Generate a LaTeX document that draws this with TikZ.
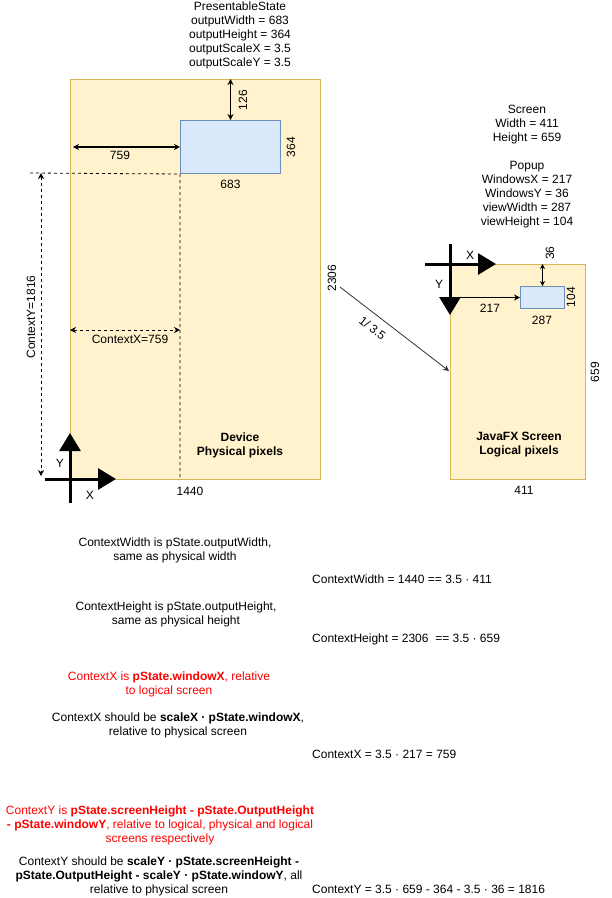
\documentclass[tikz,border=0pt]{standalone}
\usepackage{fontspec}
\setmainfont{Liberation Sans}
\usepackage{tikz}
\usetikzlibrary{arrows.meta,positioning,calc}
\definecolor{sand}{HTML}{FFF2CC}
\definecolor{ochre}{HTML}{D6B656}
\definecolor{pale}{HTML}{DAE8FC}
\definecolor{steel}{HTML}{6C8EBF}
\definecolor{alert}{HTML}{FF0000}
\definecolor{ink}{HTML}{333333}
\newcommand{\fs}{\fontsize{12}{14}\selectfont}
\tikzset{
  >={Stealth[length=6pt,width=6pt,inset=2pt]},
  screenbox/.style={draw=ochre,fill=sand,line width=1pt,inner sep=0pt,anchor=north west},
  viewbox/.style={draw=steel,fill=pale,line width=1pt,inner sep=0pt,anchor=north west},
  txt/.style={font=\fs,align=center,inner sep=0pt},
  note/.style={txt,anchor=west},
  boldtxt/.style={txt,font=\fs\bfseries},
  dim/.style={<->,line width=1.2pt},
  smalldim/.style={<->,line width=1pt,>={Stealth[length=5pt,width=5pt,inset=1.5pt]}},
  dimdash/.style={<->,line width=0.8pt,dash pattern=on 3pt off 3pt},
  guide/.style={line width=0.8pt,dash pattern=on 3pt off 3pt},
  axis/.style={-{Triangle[length=18pt,width=21pt]},line width=3pt},
  scaleflow/.style={->,draw=ink,line width=0.8pt}
}
\begin{document}
\begin{tikzpicture}[x=1pt,y=-1pt]
  \useasboundingbox (0,0) rectangle (612,898);
  % device, physical pixels
  \node[screenbox,minimum width=250pt,minimum height=400pt] (dev) at (70,79) {};
  \node[viewbox,minimum width=100pt,minimum height=53pt] (pst) at (180,120) {};
  \node[txt] (pstate) at (240,35) {PresentableState\\outputWidth = 683\\outputHeight = 364\\outputScaleX = 3.5\\outputScaleY = 3.5};
  \node[boldtxt] (devlbl) at (240,445) {Device\\Physical pixels};
  \draw[dim] (pst.north) -- (pst.north |- dev.north);
  \draw[dim] (pst.west) -- ($(dev.west |- pst.west)+(3,0)$);
  \node[txt,rotate=90] (l126) at (243,100) {126};
  \node[txt] (l759) at (120,155) {759};
  \node[txt,rotate=90] (l364) at (291,147) {364};
  \node[txt,below=6pt of pst] (l683) {683};
  \coordinate (cyl) at (30,173);
  \coordinate (cyt) at (41,173);
  \coordinate (cyb) at (41,476);
  \coordinate (cxl) at (70,330);
  \draw[guide] (cyl) -- (pst.south west) -- (pst.south west |- dev.south);
  \draw[dimdash] (cyt) -- (cyb);
  \draw[dimdash] (cxl) -- (cxl -| pst.south west);
  \node[txt,rotate=90] (lcy) at (31,317) {ContextY=1816};
  \node[txt] (lcx) at (130,339) {ContextX=759};
  \node[txt,rotate=90] (l2306) at (332,278) {2306};
  \node[txt] (l1440) at (190,491) {1440};
  \coordinate (o1) at (70,479);
  \draw[axis] ($(o1)+(0,24)$) -- ($(o1)+(0,-46)$);
  \draw[axis] ($(o1)+(-25,0)$) -- ($(o1)+(46,0)$);
  \node[txt] (ay1) at (60,463) {Y};
  \node[txt] (ax1) at (90,495) {X};
  % javafx screen, logical pixels
  \node[screenbox,minimum width=135pt,minimum height=215pt] (scr) at (450,264) {};
  \node[viewbox,minimum width=44pt,minimum height=22pt] (pop) at (520,286) {};
  \node[txt] (scrtxt) at (527,125) {Screen\\Width = 411\\Height = 659};
  \node[txt] (poptxt) at (527,195) {Popup\\WindowsX = 217\\WindowsY = 36\\viewWidth = 287\\viewHeight = 104};
  \node[boldtxt] (scrlbl) at (519,445) {JavaFX Screen\\Logical pixels};
  \coordinate (o2) at (450,264);
  \draw[axis] ($(o2)+(-25,0)$) -- ($(o2)+(46,0)$);
  \draw[axis] ($(o2)+(0,-20)$) -- ($(o2)+(0,51)$);
  \node[txt] (ax2) at (470,255) {X};
  \node[txt] (ay2) at (439,284) {Y};
  \draw[smalldim] (pop.north) -- (pop.north |- scr.north);
  \draw[->,line width=1pt] (scr.west |- pop.west) -- (pop.west);
  \node[txt,rotate=90] (l36) at (550,253) {36};
  \node[txt] (l217) at (490,308) {217};
  \node[txt,rotate=90] (l104) at (571,297) {104};
  \node[txt] (l287) at (542,320) {287};
  \node[txt,rotate=90] (l659) at (595,372) {659};
  \node[txt] (l411) at (524,490) {411};
  \coordinate (sfrom) at (340,287);
  \coordinate (sto) at (449,371);
  \draw[scaleflow] (sfrom) -- (sto) node[txt,sloped,pos=0.37,below=8pt] (lscale) {1/ 3.5};
  % explanations
  \node[txt] (wnote) at (175,550) {ContextWidth is pState.outputWidth,\\same as physical width};
  \node[note] (weq) at (312,579) {ContextWidth = 1440 == 3.5 · 411};
  \node[txt] (hnote) at (176,614) {ContextHeight is pState.outputHeight,\\same as physical height};
  \node[note] (heq) at (312,639) {ContextHeight = 2306~ == 3.5 · 659};
  \node[txt,text=alert] (xred) at (169,684) {ContextX is \textbf{pState.windowX}, relative\\to logical screen};
  \node[txt] (xnote) at (178,725) {ContextX should be \textbf{scaleX · pState.windowX},\\relative to physical screen};
  \node[note] (xeq) at (312,754) {ContextX = 3.5 · 217 = 759};
  \node[txt,text=alert] (yred) at (160,825) {ContextY is \textbf{pState.screenHeight - pState.OutputHeight}\\\textbf{- pState.windowY}, relative to logical, physical and logical\\screens respectively};
  \node[txt] (ynote) at (159,876) {ContextY should be \textbf{scaleY · pState.screenHeight -}\\\textbf{pState.OutputHeight - scaleY · pState.windowY}, all\\relative to physical screen};
  \node[note] (yeq) at (312,889) {ContextY = 3.5 · 659 - 364 - 3.5 · 36 = 1816};
\end{tikzpicture}
\end{document}
